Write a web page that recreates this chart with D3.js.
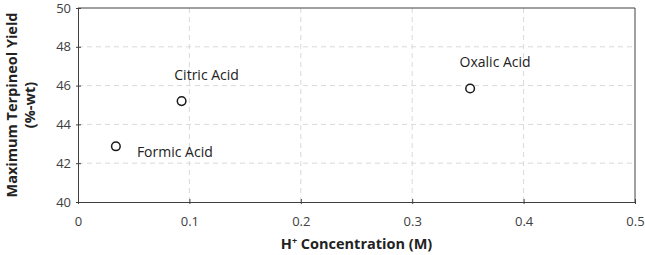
<!DOCTYPE html>
<html><head><meta charset="utf-8">
<script src="https://cdn.jsdelivr.net/npm/d3@7"></script>
<style>body{margin:0;background:#fff}svg{display:block}</style>
</head><body>
<svg id="c" width="645" height="255"></svg>
<script>
const names = ["Formic Acid", "Citric Acid", "Oxalic Acid"];
const hConc = [0.034, 0.093, 0.352];
const yieldPct = [42.87, 45.2, 45.85];
const xTicks = [0, 0.1, 0.2, 0.3, 0.4, 0.5];
const yTicks = [40, 42, 44, 46, 48, 50];

const svg = d3.select("#c");
const m = {l: 78, r: 10, t: 8, b: 53};
const W = 645, H = 255;
const x = d3.scaleLinear().domain([0, 0.5]).range([m.l, W - m.r]);
const y = d3.scaleLinear().domain([40, 50]).range([H - m.b, m.t]);
const font = "Open Sans, Liberation Sans, sans-serif";

// gridlines
svg.append("g").selectAll("line").data(yTicks.slice(1, -1)).join("line")
  .attr("x1", m.l).attr("x2", W - m.r).attr("y1", d => y(d)).attr("y2", d => y(d))
  .attr("stroke", "#d9d9d9").attr("stroke-dasharray", "5,4");
svg.append("g").selectAll("line").data(xTicks.slice(1, -1)).join("line")
  .attr("y1", m.t).attr("y2", H - m.b).attr("x1", d => x(d)).attr("x2", d => x(d))
  .attr("stroke", "#d9d9d9").attr("stroke-dasharray", "5,4");

// border top/right
svg.append("path").attr("d", `M${m.l},${m.t}H${W - m.r}V${H - m.b}`)
  .attr("fill", "none").attr("stroke", "#404040").attr("stroke-width", 1);

const xa = svg.append("g").attr("transform", `translate(0,${H - m.b})`)
  .call(d3.axisBottom(x).tickValues(xTicks).tickFormat(d => d === 0 ? "0" : d3.format(".1f")(d)).tickSize(5).tickSizeOuter(0));
const ya = svg.append("g").attr("transform", `translate(${m.l},0)`)
  .call(d3.axisLeft(y).tickValues(yTicks).tickSize(5).tickSizeOuter(0));
[xa, ya].forEach(a => {
  a.select(".domain").attr("stroke", "#404040");
  a.selectAll(".tick line").attr("stroke", "#404040");
  a.selectAll("text").attr("fill", "#404040").attr("font-family", font).attr("font-size", 13);
});
xa.selectAll(".tick line").attr("transform", "translate(0,-3)");
xa.selectAll("text").attr("dy", "1.2em");
ya.selectAll(".tick line").attr("transform", "translate(3,0)");
ya.selectAll("text").attr("x", -7);

// points
svg.append("g").selectAll("circle").data(hConc).join("circle")
  .attr("cx", d => x(d)).attr("cy", (d, i) => y(yieldPct[i])).attr("r", 4.3)
  .attr("fill", "#fff").attr("stroke", "#1a1a1a").attr("stroke-width", 1.5);

// labels
const lab = [
  {dx: 21, dy: 11, anchor: "start"},
  {dx: 25, dy: -21, anchor: "middle"},
  {dx: 25, dy: -22, anchor: "middle"}
];
svg.append("g").selectAll("text").data(names).join("text")
  .attr("x", (d, i) => x(hConc[i]) + lab[i].dx)
  .attr("y", (d, i) => y(yieldPct[i]) + lab[i].dy)
  .attr("text-anchor", (d, i) => lab[i].anchor)
  .attr("font-family", font).attr("font-size", 14).attr("fill", "#222")
  .text(d => d);

// axis titles
const xt = svg.append("text").attr("x", (m.l + W - m.r) / 2).attr("y", 249)
  .attr("text-anchor", "middle").attr("font-family", font).attr("font-weight", "bold")
  .attr("font-size", 14.5).attr("fill", "#222");
xt.append("tspan").text("H");
xt.append("tspan").text("+").attr("font-size", 9).attr("dy", -5);
xt.append("tspan").text(" Concentration (M)").attr("dy", 5);

const yt = svg.append("text").attr("transform", `translate(17,${(m.t + H - m.b) / 2}) rotate(-90)`)
  .attr("text-anchor", "middle").attr("font-family", font).attr("font-weight", "bold")
  .attr("font-size", 14.5).attr("fill", "#222");
yt.append("tspan").attr("x", 0).attr("dy", 0).text("Maximum Terpineol Yield");
yt.append("tspan").attr("x", 0).attr("dy", 18).text("(%-wt)");
</script>
</body></html>
